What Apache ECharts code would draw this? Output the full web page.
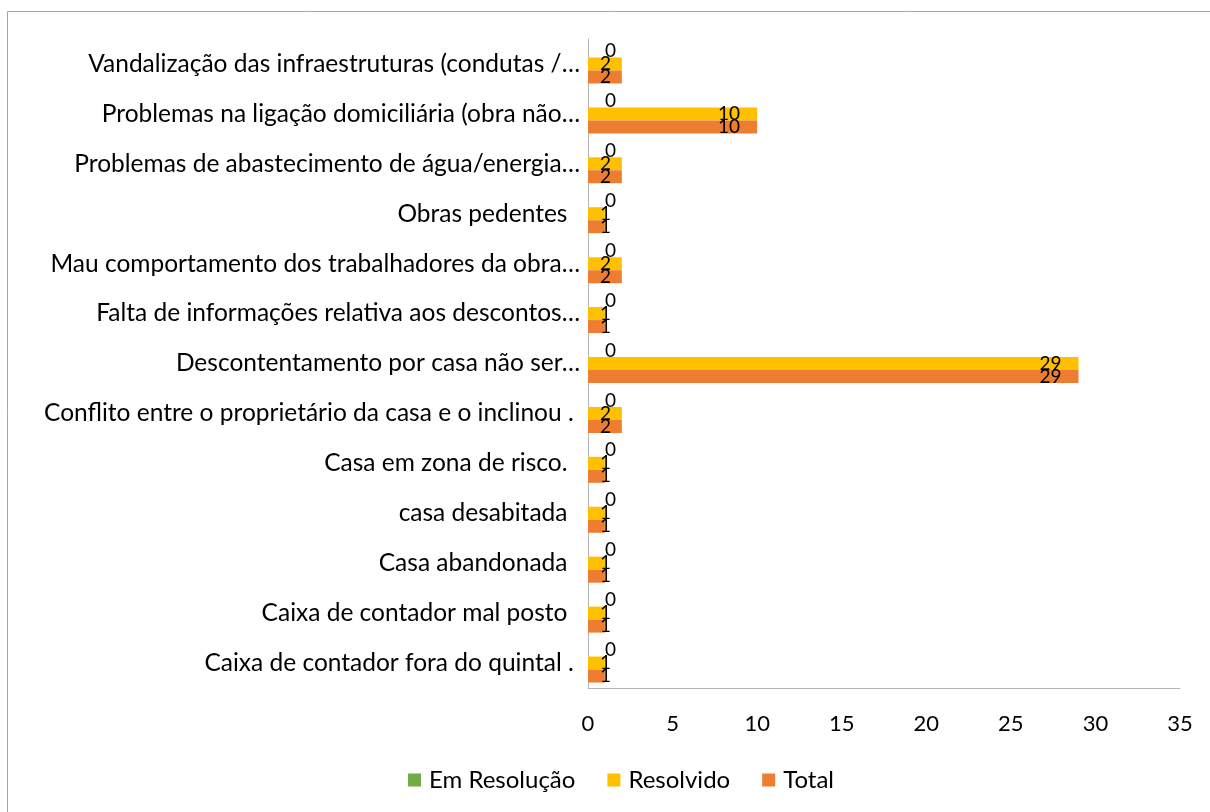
<!DOCTYPE html>
<html lang="pt">
<head>
    <meta charset="UTF-8">
    <title>Reclamações</title>
    <script type="text/javascript" src="https://cdn.jsdelivr.net/npm/echarts@6/dist/echarts.min.js"></script>
    <style>
        html, body { margin: 0; padding: 0; background: #fff; }
        #myChart { width: 1210px; height: 812px; }
    </style>
</head>
<body>
<div id="myChart"></div>

<script type="text/javascript">
    // categorias (de baixo para cima)
    var categorias = [
        "Caixa de contador fora do quintal . ",
        "Caixa de contador mal posto  ",
        "Casa abandonada  ",
        "casa desabitada  ",
        "Casa em zona de risco.  ",
        "Conflito entre o proprietário da casa e o inclinou . ",
        "Descontentamento por casa não ser…",
        "Falta de informações relativa aos descontos…",
        "Mau comportamento dos trabalhadores da obra…",
        "Obras pedentes  ",
        "Problemas de abastecimento de água/energia…",
        "Problemas na ligação domiciliária (obra não…",
        "Vandalização das infraestruturas (condutas /…"
    ];
    var emResolucao = [0, 0, 0, 0, 0, 0, 0, 0, 0, 0, 0, 0, 0];
    var resolvido = [1, 1, 1, 1, 1, 2, 29, 1, 2, 1, 2, 10, 2];
    var total = [1, 1, 1, 1, 1, 2, 29, 1, 2, 1, 2, 10, 2];
    var xTicks = [0, 5, 10, 15, 20, 25, 30, 35];

    var fonte = "Lato";

    // rótulo perto do fim da barra, ou depois do zero nas barras pequenas
    function comRotulos(valores) {
        return valores.map(function (v) {
            if (v >= 5) {
                return { value: v, label: { position: 'insideRight', distance: 17 } };
            }
            return { value: v, label: { position: 'insideLeft', distance: v === 0 ? 17 : 12 } };
        });
    }

    function serie(nome, cor, valores) {
        return {
            name: nome,
            type: 'bar',
            barWidth: 13,
            barGap: '0%',
            itemStyle: { color: cor },
            label: {
                show: true,
                color: '#000',
                fontFamily: fonte,
                fontSize: 19
            },
            data: comRotulos(valores)
        };
    }

    var myChart = echarts.init(document.getElementById('myChart'));
    myChart.setOption({
        animation: false,
        textStyle: { fontFamily: fonte },
        graphic: [{
            type: 'rect',
            shape: { x: 7.5, y: 11.5, width: 1300, height: 900 },
            style: { fill: 'none', stroke: '#a6a6a6', lineWidth: 1 },
            silent: true
        }],
        legend: {
            data: ['Em Resolução', 'Resolvido', 'Total'],
            top: 763,
            left: 403,
            itemWidth: 13,
            itemHeight: 13,
            itemGap: 32,
            icon: 'rect',
            textStyle: { fontFamily: fonte, fontSize: 24, color: '#000', padding: [0, 0, 0, 3] }
        },
        grid: { left: 588, right: 30, top: 39, bottom: 124 },
        xAxis: {
            type: 'value',
            min: xTicks[0],
            max: xTicks[xTicks.length - 1],
            interval: 5,
            axisLine: { show: true, lineStyle: { color: '#b4b4b4' } },
            axisTick: { show: false },
            splitLine: { show: false },
            axisLabel: { color: '#000', fontFamily: fonte, fontSize: 22, margin: 25 }
        },
        yAxis: {
            type: 'category',
            data: categorias,
            axisLine: { show: true, lineStyle: { color: '#b4b4b4' } },
            axisTick: { show: false },
            axisLabel: { color: '#000', fontFamily: fonte, fontSize: 24.5, margin: 8 }
        },
        series: [
            serie('Em Resolução', '#70AD47', emResolucao),
            serie('Resolvido', '#FFC000', resolvido),
            serie('Total', '#ED7D31', total)
        ]
    });
</script>
</body>
</html>
